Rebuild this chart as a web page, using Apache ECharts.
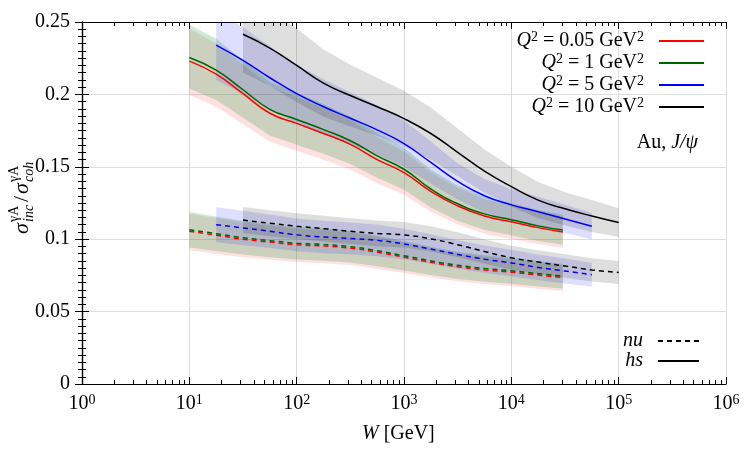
<!DOCTYPE html>
<html>
<head>
<meta charset="utf-8">
<script src="https://cdn.jsdelivr.net/npm/echarts@6/dist/echarts.min.js"></script>
<style>
html, body { margin: 0; padding: 0; background: #fff; }
#chart { width: 750px; height: 450px; }
</style>
</head>
<body>
<div id="chart"></div>
<script>
var FONT = 'Liberation Serif';

// log10(W / GeV) sample points, one grid per W range
var logW1 = [1.0, 1.25, 1.5, 1.75, 2.0, 2.25, 2.5, 2.75, 3.0, 3.25, 3.5, 3.75, 4.0, 4.25, 4.48];
var logW2 = [1.25, 1.5, 1.75, 2.0, 2.25, 2.5, 2.75, 3.0, 3.25, 3.5, 3.75, 4.0, 4.25, 4.5, 4.75];
var logW3 = [1.5, 1.75, 2.0, 2.25, 2.5, 2.75, 3.0, 3.25, 3.5, 3.75, 4.0, 4.25, 4.5, 4.75, 5.0];

// hs (solid)
var hsQ005 = [0.223, 0.214, 0.2005, 0.187, 0.180, 0.173, 0.1655, 0.155, 0.146, 0.133, 0.123, 0.116, 0.112, 0.108, 0.105];
var hsQ005Lo = [0.1996, 0.1915, 0.1794, 0.1674, 0.1611, 0.1548, 0.1481, 0.1387, 0.1307, 0.1190, 0.1101, 0.1038, 0.1002, 0.0967, 0.0940];
var hsQ005Hi = [0.2453, 0.2354, 0.2206, 0.2057, 0.198, 0.1903, 0.1821, 0.1705, 0.1606, 0.1463, 0.1353, 0.1276, 0.1232, 0.1188, 0.1155];

var hsQ1 = [0.2255, 0.2167, 0.2032, 0.1897, 0.1827, 0.1757, 0.168, 0.1575, 0.1483, 0.1347, 0.1245, 0.1175, 0.1135, 0.1092, 0.1063];
var hsQ1Lo = [0.2041, 0.1961, 0.1839, 0.1717, 0.1653, 0.1590, 0.1520, 0.1425, 0.1342, 0.1219, 0.1127, 0.1063, 0.1027, 0.0988, 0.0962];
var hsQ1Hi = [0.2481, 0.2384, 0.2235, 0.2087, 0.201, 0.1933, 0.1848, 0.1733, 0.1631, 0.1482, 0.137, 0.1293, 0.1249, 0.1201, 0.1169];

var hsQ5 = [0.234, 0.2235, 0.2115, 0.2005, 0.1915, 0.1835, 0.1755, 0.166, 0.153, 0.140, 0.130, 0.1237, 0.119, 0.114, 0.109];
var hsQ5Lo = [0.210, 0.2005, 0.19, 0.1805, 0.1725, 0.1655, 0.1585, 0.15, 0.1385, 0.1275, 0.1185, 0.1129, 0.1087, 0.1042, 0.0998];
var hsQ5Hi = [0.258, 0.2465, 0.233, 0.2205, 0.2105, 0.2015, 0.1925, 0.182, 0.1675, 0.1525, 0.1415, 0.1345, 0.1293, 0.1238, 0.1182];

var hsQ10 = [0.2415, 0.232, 0.220, 0.2078, 0.1992, 0.1915, 0.1833, 0.173, 0.160, 0.147, 0.1363, 0.127, 0.121, 0.116, 0.1115];
var hsQ10Lo = [0.215, 0.206, 0.1945, 0.1846, 0.1779, 0.1715, 0.1641, 0.155, 0.1435, 0.132, 0.1226, 0.1145, 0.1095, 0.105, 0.1016];
var hsQ10Hi = [0.268, 0.258, 0.2455, 0.231, 0.2205, 0.2115, 0.2025, 0.191, 0.1765, 0.162, 0.150, 0.1395, 0.1325, 0.127, 0.1214];

// nu (dashed)
var nuQ005 = [0.1055, 0.1028, 0.100, 0.098, 0.0962, 0.0953, 0.0938, 0.091, 0.0876, 0.084, 0.081, 0.0788, 0.0772, 0.0752, 0.0735];
var nuQ005Lo = [0.0923, 0.09, 0.0875, 0.0858, 0.0842, 0.0834, 0.0821, 0.0796, 0.0767, 0.0735, 0.0709, 0.069, 0.0676, 0.0658, 0.0643];
var nuQ005Hi = [0.1176, 0.1146, 0.1115, 0.1093, 0.1073, 0.1063, 0.1046, 0.1015, 0.0977, 0.0937, 0.0903, 0.0879, 0.0861, 0.0838, 0.082];

var nuQ1 = [0.1065, 0.1038, 0.101, 0.099, 0.0972, 0.0963, 0.0948, 0.092, 0.0886, 0.085, 0.082, 0.0798, 0.0782, 0.0762, 0.0745];
var nuQ1Lo = [0.0943, 0.0919, 0.0894, 0.0876, 0.086, 0.0852, 0.0839, 0.0814, 0.0784, 0.0752, 0.0726, 0.0706, 0.0692, 0.0674, 0.0659];
var nuQ1Hi = [0.1187, 0.1157, 0.1126, 0.1104, 0.1084, 0.1074, 0.1057, 0.1026, 0.0988, 0.0948, 0.0914, 0.089, 0.0872, 0.085, 0.0831];

var nuQ5 = [0.110, 0.1078, 0.1055, 0.103, 0.1015, 0.1005, 0.0992, 0.0967, 0.0932, 0.0895, 0.0862, 0.0836, 0.0805, 0.078, 0.0755];
var nuQ5Lo = [0.0979, 0.0959, 0.0939, 0.0917, 0.0903, 0.0894, 0.0883, 0.0861, 0.0829, 0.0797, 0.0767, 0.0744, 0.0716, 0.0694, 0.0672];
var nuQ5Hi = [0.1221, 0.1197, 0.1171, 0.1143, 0.1127, 0.1116, 0.1101, 0.1073, 0.1035, 0.0993, 0.0957, 0.0928, 0.0894, 0.0866, 0.0838];

var nuQ10 = [0.1132, 0.111, 0.109, 0.1073, 0.1055, 0.104, 0.103, 0.1002, 0.0962, 0.0915, 0.0872, 0.0842, 0.0815, 0.0788, 0.077];
var nuQ10Lo = [0.1042, 0.102, 0.1, 0.0984, 0.0966, 0.0951, 0.0942, 0.0915, 0.0876, 0.0831, 0.0789, 0.076, 0.0734, 0.0708, 0.069];
var nuQ10Hi = [0.1222, 0.12, 0.118, 0.1162, 0.1144, 0.1129, 0.1118, 0.1089, 0.1048, 0.0999, 0.0955, 0.0924, 0.0896, 0.0868, 0.085];

// axis ticks
var xDecades = [0, 1, 2, 3, 4, 5, 6];
var minorMult = [2, 3, 4, 5, 6, 7, 8, 9];
var qNames = ['Q2=0.05', 'Q2=1', 'Q2=5', 'Q2=10'];

var xMinor = [];
xDecades.slice(0, -1).forEach(function (d) {
  minorMult.forEach(function (k) { xMinor.push(d + Math.log10(k)); });
});

function pairs(xs, ys) {
  return xs.map(function (x, i) { return [x, ys[i]]; });
}

function line(name, xs, ys, color, dashed) {
  return {
    name: name, type: 'line', data: pairs(xs, ys),
    symbol: 'none', smooth: 0.5, z: 5, silent: true,
    lineStyle: { color: color, width: 1.5, type: dashed ? [5, 4] : 'solid' },
    itemStyle: { color: color }
  };
}

// filled band between lo and hi
function band(xs, lo, hi, fill) {
  return {
    type: 'custom', silent: true, clip: true, z: 2,
    data: xs.map(function (x, i) { return [x, lo[i], hi[i]]; }),
    encode: { x: 0, y: [1, 2] },
    renderItem: function (params, api) {
      if (params.dataIndex !== 0) return;
      var pts = [];
      for (var i = 0; i < xs.length; i++) pts.push(api.coord([xs[i], hi[i]]));
      for (var j = xs.length - 1; j >= 0; j--) pts.push(api.coord([xs[j], lo[j]]));
      return { type: 'polygon', shape: { points: pts }, style: { fill: fill } };
    }
  };
}

var RED = '#ff0000', GREEN = '#006400', BLUE = '#0000ff', BLACK = '#000000';
var FILL_RED = 'rgba(255,0,0,0.12)', FILL_GREEN = 'rgba(0,150,50,0.2)';
var FILL_BLUE = 'rgba(0,0,255,0.13)', FILL_GREY = 'rgba(0,0,0,0.13)';

var series = [
  band(logW1, hsQ005Lo, hsQ005Hi, FILL_RED),
  band(logW1, hsQ1Lo, hsQ1Hi, FILL_GREEN),
  band(logW2, hsQ5Lo, hsQ5Hi, FILL_BLUE),
  band(logW3, hsQ10Lo, hsQ10Hi, FILL_GREY),
  band(logW1, nuQ005Lo, nuQ005Hi, FILL_RED),
  band(logW1, nuQ1Lo, nuQ1Hi, FILL_GREEN),
  band(logW2, nuQ5Lo, nuQ5Hi, FILL_BLUE),
  band(logW3, nuQ10Lo, nuQ10Hi, FILL_GREY),
  line(qNames[0], logW1, hsQ005, RED, false),
  line(qNames[1], logW1, hsQ1, GREEN, false),
  line(qNames[2], logW2, hsQ5, BLUE, false),
  line(qNames[3], logW3, hsQ10, BLACK, false),
  line('nu 0.05', logW1, nuQ005, RED, true),
  line('nu 1', logW1, nuQ1, GREEN, true),
  line('nu 5', logW2, nuQ5, BLUE, true),
  line('nu 10', logW3, nuQ10, BLACK, true),
  line('nu', [], [], BLACK, true),
  line('hs', [], [], BLACK, false)
];

function xAxisDef(pos, minor, labels) {
  return {
    type: 'value', position: pos, min: 0, max: 6, interval: 1,
    axisLine: { show: !minor, lineStyle: { color: '#000', width: 1.2 } },
    axisTick: minor
      ? { show: true, inside: true, length: 4, customValues: xMinor, lineStyle: { color: '#000' } }
      : { show: true, inside: true, length: 7, lineStyle: { color: '#000' } },
    axisLabel: labels ? {
      margin: 9,
      formatter: function (v) { return '{b|10}{s|' + v + '}'; },
      rich: {
        b: { fontFamily: FONT, fontSize: 20, color: '#000', lineHeight: 22 },
        s: { fontFamily: FONT, fontSize: 14, color: '#000', lineHeight: 12, verticalAlign: 'top' }
      }
    } : { show: false },
    splitLine: { show: labels, lineStyle: { color: '#dddddd', width: 1 } }
  };
}

function yAxisDef(pos, labels) {
  return {
    type: 'value', position: pos, min: 0, max: 0.25, interval: 0.05,
    axisLine: { show: true, lineStyle: { color: '#000', width: 1.2 } },
    axisTick: { show: true, inside: true, length: 7, lineStyle: { color: '#000' } },
    minorTick: { show: true, splitNumber: 10, length: 4, lineStyle: { color: '#000' } },
    axisLabel: labels ? { margin: 12, fontFamily: FONT, fontSize: 20, color: '#000' } : { show: false },
    splitLine: { show: labels, lineStyle: { color: '#dddddd', width: 1 } }
  };
}

var richLegend = {
  i: { fontFamily: FONT, fontSize: 20, fontStyle: 'italic', color: '#000', lineHeight: 22 },
  r: { fontFamily: FONT, fontSize: 20, color: '#000', lineHeight: 22 },
  s: { fontFamily: FONT, fontSize: 14, color: '#000', lineHeight: 12, verticalAlign: 'top' }
};

function sub(text, x, y, italic) {
  return { type: 'text', x: x, y: y, style: { text: text, fontFamily: FONT, fontSize: 14, fontStyle: italic ? 'italic' : 'normal', fill: '#000', verticalAlign: 'middle' } };
}
function big(text, x, italic) {
  return { type: 'text', x: x, y: 0, style: { text: text, fontFamily: FONT, fontSize: 22, fontStyle: italic ? 'italic' : 'normal', fill: '#000', verticalAlign: 'middle' } };
}

var option = {
  animation: false,
  backgroundColor: '#fff',
  grid: { left: 82, right: 24, top: 22, bottom: 66 },
  xAxis: [
    xAxisDef('bottom', false, true),
    xAxisDef('bottom', true, false),
    xAxisDef('top', false, false),
    xAxisDef('top', true, false)
  ],
  yAxis: [yAxisDef('left', true), yAxisDef('right', false)],
  legend: [{
    data: qNames, orient: 'vertical', align: 'right', right: 45, top: 30,
    padding: 0, itemGap: 1, itemWidth: 45, itemHeight: 10, selectedMode: false,
    itemStyle: { opacity: 0 },
    formatter: function (name) {
      var q = name.split('=')[1];
      return '{i|Q}{s|2}{r| = ' + q + ' GeV}{s|2}{r|  }';
    },
    textStyle: { rich: richLegend }
  }, {
    data: ['nu', 'hs'], orient: 'vertical', align: 'right', right: 50, top: 331,
    padding: 0, itemGap: 0, itemWidth: 41, itemHeight: 10, selectedMode: false,
    itemStyle: { opacity: 0 },
    formatter: function (name) { return '{i|' + name + '}{r|  }'; },
    textStyle: { rich: richLegend }
  }],
  graphic: [
    {
      type: 'text', right: 52, top: 133,
      style: { text: '{r|Au, }{i|J/ψ}', rich: richLegend }
    },
    {
      type: 'text', left: 362, top: 424,
      style: { text: '{i|W}{r| [GeV]}', rich: richLegend }
    },
    {
      type: 'group', x: 22, y: 234, rotation: Math.PI / 2,
      children: [
        big('σ', 0, true),
        sub('γA', 12, -8, false),
        sub('inc', 12, 7, true),
        big('/', 32, false),
        big('σ', 40, true),
        sub('γA', 52, -8, false),
        sub('coh', 52, 7, true)
      ]
    }
  ],
  series: series
};

var chart = echarts.init(document.getElementById('chart'));
chart.setOption(option);
</script>
</body>
</html>
